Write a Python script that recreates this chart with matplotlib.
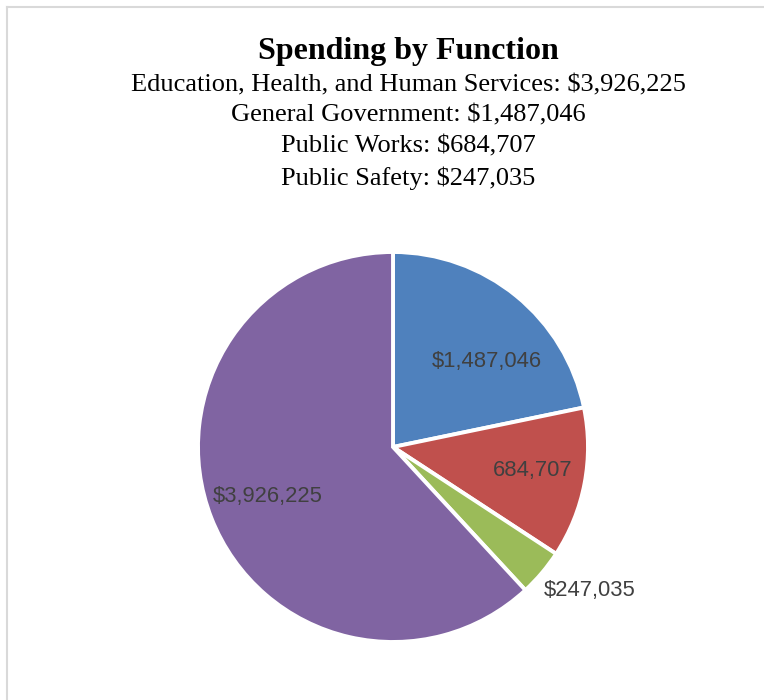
import matplotlib
matplotlib.use("Agg")
import matplotlib.pyplot as plt
from matplotlib.lines import Line2D

# Data
categories = ["General Government", "Public Works", "Public Safety",
              "Education, Health, and Human Services"]
# slice sizes
slice_values = [1380040, 791713, 247035, 3926225]
# values as printed on the chart
value_labels = ["$1,487,046", "684,707", "$247,035", "$3,926,225"]
subtitle_lines = ["Education, Health, and Human Services: $3,926,225",
                  "General Government: $1,487,046",
                  "Public Works: $684,707",
                  "Public Safety: $247,035"]
colors = ["#4F81BD", "#C0504D", "#9BBB59", "#8064A2"]

W, H = 764, 700
fig = plt.figure(figsize=(W / 100, H / 100), dpi=100)
fig.patch.set_facecolor("white")

# border lines (top and left)
fig.add_artist(Line2D([7 / W, 1.0], [1 - 7 / H, 1 - 7 / H], color="#D9D9D9", lw=1.5))
fig.add_artist(Line2D([7 / W, 7 / W], [0, 1 - 7 / H], color="#D9D9D9", lw=1.5))

cx, cy, r = 393, 447, 195
ax = fig.add_axes([(cx - r) / W, (H - cy - r) / H, 2 * r / W, 2 * r / H])
wedges, _ = ax.pie(slice_values, colors=colors, startangle=90, counterclock=False,
                   radius=1.0, wedgeprops=dict(edgecolor="white", linewidth=2.8))
ax.set_xlim(-1, 1)
ax.set_ylim(-1, 1)
ax.set_aspect("auto")
ax.axis("off")

label_pos = [(0.482, 0.441), (0.718, -0.118), (1.010, -0.738), (-0.641, -0.256)]
for txt, (x, y) in zip(value_labels, label_pos):
    ax.text(x, y, txt, ha="center", va="center", fontsize=15.8,
            family="Liberation Sans", color="#404040", clip_on=False)

tx = 408
fig.text(tx / W, 1 - 51 / H, "Spending by Function", ha="center", va="center",
         fontsize=23, fontweight="bold", family="Liberation Serif", color="black")
ys = [85, 115, 146, 178]
for line, y in zip(subtitle_lines, ys):
    fig.text(tx / W, 1 - y / H, line, ha="center", va="center",
             fontsize=19, family="Liberation Serif", color="black")

fig.savefig("out.png", dpi=100, facecolor="white")
